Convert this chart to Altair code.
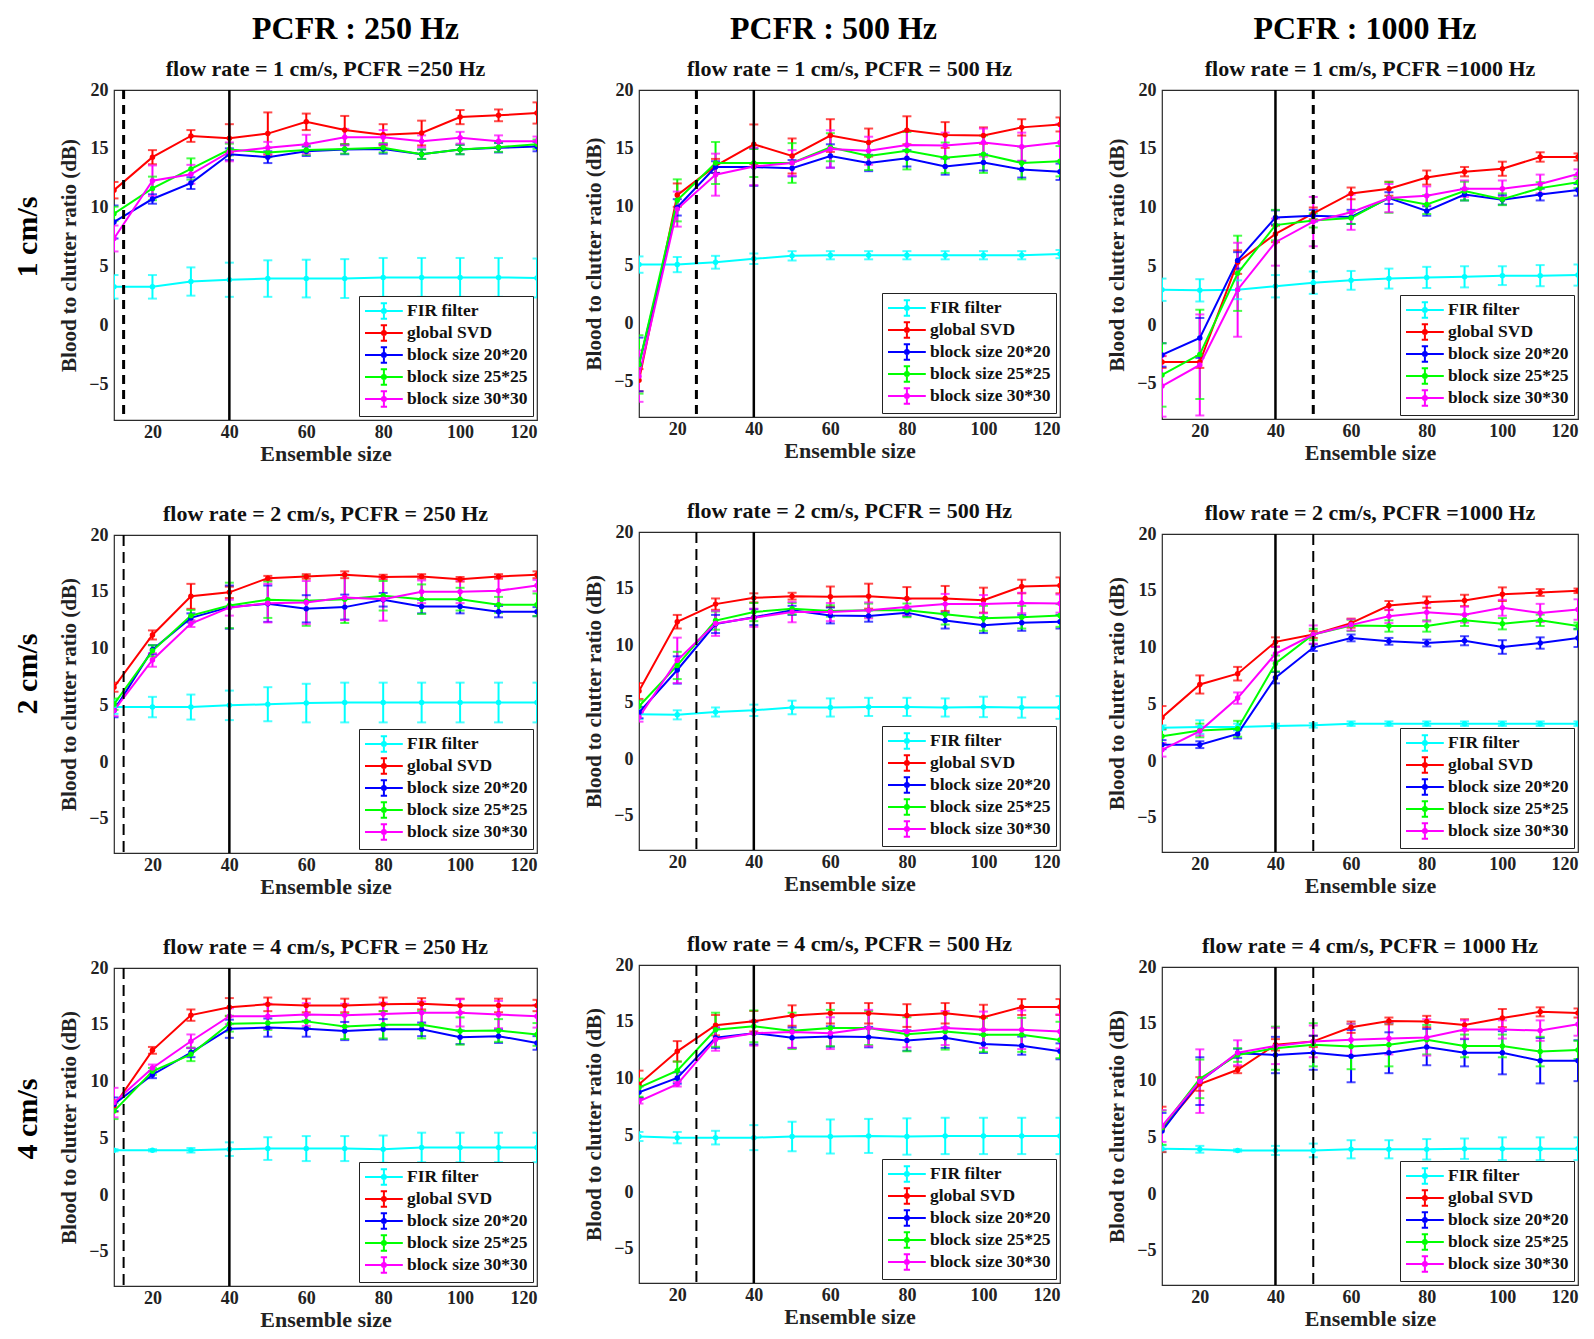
import altair as alt
import pandas as pd

X = [10, 20, 30, 40, 50, 60, 70, 80, 90, 100, 110, 120]
SERIES = ["FIR filter", "global SVD", "block size 20*20", "block size 25*25", "block size 30*30"]
COLORS = ["#00FFFF", "#FF0000", "#0000FF", "#00FF00", "#FF00FF"]
FLOWS = ["1 cm/s", "2 cm/s", "4 cm/s"]
PCFRS = ["PCFR : 250 Hz", "PCFR : 500 Hz", "PCFR : 1000 Hz"]
TITLES = [
    ["flow rate = 1 cm/s, PCFR =250 Hz", "flow rate = 1 cm/s, PCFR = 500 Hz", "flow rate = 1 cm/s, PCFR =1000 Hz"],
    ["flow rate = 2 cm/s, PCFR = 250 Hz", "flow rate = 2 cm/s, PCFR = 500 Hz", "flow rate = 2 cm/s, PCFR =1000 Hz"],
    ["flow rate = 4 cm/s, PCFR = 250 Hz", "flow rate = 4 cm/s, PCFR = 500 Hz", "flow rate = 4 cm/s, PCFR = 1000 Hz"],
]
SOLID_X = 40
DASH_X = [12.5, 25, 50]
X_TICKS = [20, 40, 60, 80, 100, 120]
Y_TICKS = [-5, 0, 5, 10, 15, 20]

# ---- row 1 : 1 cm/s ----
R1C1_FIR = [3.3, 3.3, 3.75, 3.9, 4.0, 4.0, 4.0, 4.1, 4.1, 4.1, 4.1, 4.05]
R1C1_FIR_ERR = [1.0, 1.0, 1.2, 1.45, 1.55, 1.6, 1.65, 1.65, 1.65, 1.65, 1.65, 1.65]
R1C1_SVD = [11.5, 14.3, 16.1, 15.9, 16.3, 17.3, 16.6, 16.2, 16.35, 17.7, 17.85, 18.05]
R1C1_SVD_ERR = [0.7, 0.6, 0.5, 1.2, 1.8, 0.7, 1.2, 0.9, 1.05, 0.6, 0.5, 0.9]
R1C1_B20 = [8.8, 10.75, 12.1, 14.55, 14.3, 14.8, 14.95, 15.0, 14.55, 14.95, 15.1, 15.2]
R1C1_B20_ERR = [1.4, 0.4, 0.5, 0.5, 0.5, 0.4, 0.4, 0.4, 0.4, 0.4, 0.4, 0.4]
R1C1_B25 = [9.5, 11.65, 13.3, 14.95, 14.7, 14.9, 15.0, 15.1, 14.55, 14.95, 15.15, 15.4]
R1C1_B25_ERR = [0.6, 1.0, 0.9, 0.5, 0.4, 0.4, 0.4, 0.4, 0.4, 0.4, 0.4, 0.4]
R1C1_B30 = [7.4, 12.3, 12.85, 14.75, 15.1, 15.4, 16.0, 16.0, 15.65, 15.95, 15.65, 15.65]
R1C1_B30_ERR = [1.1, 1.3, 0.8, 0.8, 0.5, 0.8, 0.7, 0.6, 0.5, 0.5, 0.5, 0.4]

R1C2_FIR = [5.05, 5.05, 5.25, 5.55, 5.8, 5.85, 5.85, 5.85, 5.85, 5.85, 5.85, 5.95]
R1C2_FIR_ERR = [0.7, 0.65, 0.55, 0.45, 0.4, 0.35, 0.35, 0.35, 0.35, 0.35, 0.35, 0.35]
R1C2_SVD = [-4.85, 11.0, 13.5, 15.35, 14.35, 16.1, 15.5, 16.55, 16.15, 16.1, 16.8, 17.05]
R1C2_SVD_ERR = [0.95, 1.0, 0.6, 1.7, 1.5, 1.4, 1.2, 1.2, 1.1, 0.7, 0.7, 0.6]
R1C2_B20 = [-3.5, 9.95, 13.4, 13.4, 13.3, 14.35, 13.75, 14.15, 13.45, 13.8, 13.2, 13.0]
R1C2_B20_ERR = [2.3, 0.7, 0.5, 1.6, 0.7, 1.0, 0.7, 0.7, 0.7, 0.7, 0.7, 0.7]
R1C2_B25 = [-3.5, 10.55, 13.75, 13.75, 13.75, 15.1, 14.35, 14.8, 14.2, 14.5, 13.75, 13.9]
R1C2_B25_ERR = [2.5, 1.8, 1.8, 1.2, 1.7, 1.2, 1.2, 1.6, 1.3, 1.6, 1.4, 1.3]
R1C2_B30 = [-4.5, 9.8, 12.75, 13.45, 13.75, 14.95, 14.8, 15.3, 15.25, 15.5, 15.15, 15.5]
R1C2_B30_ERR = [2.2, 1.5, 1.8, 1.6, 1.1, 1.6, 1.2, 1.2, 1.1, 1.2, 1.2, 1.6]

R1C3_FIR = [3.0, 2.95, 3.0, 3.3, 3.6, 3.8, 3.95, 4.05, 4.1, 4.2, 4.2, 4.25]
R1C3_FIR_ERR = [0.95, 0.95, 0.8, 0.95, 0.95, 0.8, 0.85, 0.9, 0.9, 0.8, 0.9, 0.9]
R1C3_SVD = [-3.15, -3.15, 5.35, 7.75, 9.5, 11.2, 11.6, 12.55, 13.05, 13.3, 14.3, 14.3]
R1C3_SVD_ERR = [0.5, 0.5, 1.0, 0.7, 0.5, 0.5, 0.6, 0.6, 0.4, 0.6, 0.4, 0.3]
R1C3_B20 = [-2.55, -1.1, 5.5, 9.15, 9.3, 9.2, 10.8, 9.7, 11.1, 10.65, 11.1, 11.5]
R1C3_B20_ERR = [1.0, 1.7, 0.7, 0.6, 0.5, 0.6, 0.5, 0.4, 0.5, 0.4, 0.5, 0.5]
R1C3_B25 = [-4.25, -2.5, 4.4, 8.5, 8.9, 9.1, 10.85, 10.25, 11.4, 10.7, 11.65, 12.15]
R1C3_B25_ERR = [2.7, 3.8, 3.2, 1.3, 0.6, 0.5, 1.3, 0.8, 0.8, 0.5, 0.5, 0.5]
R1C3_B30 = [-5.2, -3.4, 3.0, 7.05, 8.8, 9.6, 10.8, 11.0, 11.6, 11.6, 12.0, 12.85]
R1C3_B30_ERR = [2.6, 4.3, 4.0, 2.0, 2.1, 1.5, 1.2, 0.8, 0.7, 0.7, 0.8, 0.4]

# ---- row 2 : 2 cm/s ----
R2C1_FIR = [4.85, 4.85, 4.85, 5.0, 5.1, 5.2, 5.25, 5.25, 5.25, 5.25, 5.25, 5.25]
R2C1_FIR_ERR = [0.6, 0.9, 1.1, 1.3, 1.5, 1.7, 1.75, 1.75, 1.75, 1.75, 1.75, 1.75]
R2C1_SVD = [6.6, 11.2, 14.6, 14.95, 16.2, 16.35, 16.5, 16.3, 16.35, 16.1, 16.35, 16.5]
R2C1_SVD_ERR = [0.4, 0.4, 1.1, 0.5, 0.2, 0.2, 0.3, 0.2, 0.2, 0.2, 0.2, 0.3]
R2C1_B20 = [4.55, 9.9, 12.7, 13.65, 13.95, 13.5, 13.65, 14.3, 13.7, 13.7, 13.25, 13.25]
R2C1_B20_ERR = [0.6, 0.4, 0.4, 1.9, 1.6, 1.2, 1.1, 0.6, 0.6, 0.6, 0.5, 0.4]
R2C1_B25 = [5.1, 9.8, 12.9, 13.8, 14.3, 14.2, 14.35, 14.65, 14.35, 14.35, 13.85, 13.85]
R2C1_B25_ERR = [0.5, 0.5, 0.5, 2.0, 1.6, 2.2, 2.1, 1.3, 1.3, 1.0, 0.7, 1.0]
R2C1_B30 = [4.55, 9.0, 12.2, 13.6, 14.0, 14.05, 14.5, 14.35, 15.0, 15.0, 15.1, 15.55]
R2C1_B30_ERR = [0.5, 0.6, 0.3, 0.7, 1.7, 1.9, 2.0, 1.9, 1.0, 1.0, 1.2, 0.5]

R2C2_FIR = [3.95, 3.9, 4.15, 4.3, 4.55, 4.55, 4.6, 4.6, 4.55, 4.6, 4.55, 4.55]
R2C2_FIR_ERR = [0.4, 0.4, 0.4, 0.5, 0.6, 0.8, 0.8, 0.8, 0.8, 0.9, 0.9, 1.0]
R2C2_SVD = [6.0, 12.1, 13.65, 14.2, 14.35, 14.3, 14.35, 14.15, 14.15, 14.0, 15.2, 15.3]
R2C2_SVD_ERR = [0.7, 0.6, 0.5, 0.4, 0.3, 0.9, 1.1, 1.0, 1.1, 1.1, 0.6, 0.7]
R2C2_B20 = [4.1, 7.85, 11.9, 12.5, 13.1, 12.65, 12.6, 12.9, 12.2, 11.8, 12.0, 12.1]
R2C2_B20_ERR = [0.5, 1.2, 0.8, 0.7, 0.4, 0.7, 0.5, 0.3, 0.7, 0.7, 0.7, 0.6]
R2C2_B25 = [4.65, 8.25, 12.2, 12.95, 13.25, 13.05, 13.1, 13.1, 12.75, 12.4, 12.5, 12.65]
R2C2_B25_ERR = [0.5, 1.2, 0.8, 0.8, 0.5, 0.5, 0.6, 0.6, 0.9, 1.1, 1.0, 1.0]
R2C2_B30 = [3.7, 8.7, 11.95, 12.45, 12.95, 12.95, 13.1, 13.4, 13.65, 13.65, 13.75, 13.7]
R2C2_B30_ERR = [0.4, 2.0, 1.1, 0.8, 0.9, 0.8, 0.7, 0.7, 0.9, 0.8, 0.9, 0.8]

R2C3_FIR = [2.95, 3.0, 3.0, 3.1, 3.15, 3.3, 3.3, 3.3, 3.3, 3.3, 3.3, 3.3]
R2C3_FIR_ERR = [0.2, 0.6, 0.3, 0.2, 0.2, 0.2, 0.2, 0.2, 0.2, 0.2, 0.2, 0.2]
R2C3_SVD = [3.85, 6.75, 7.7, 10.5, 11.15, 12.15, 13.7, 14.0, 14.15, 14.7, 14.85, 15.0]
R2C3_SVD_ERR = [1.0, 0.8, 0.6, 0.4, 0.3, 0.4, 0.4, 0.5, 0.5, 0.6, 0.3, 0.2]
R2C3_B20 = [1.45, 1.45, 2.4, 7.35, 10.0, 10.85, 10.55, 10.4, 10.6, 10.05, 10.4, 10.85]
R2C3_B20_ERR = [0.4, 0.3, 0.4, 0.5, 0.3, 0.3, 0.3, 0.3, 0.4, 0.6, 0.5, 0.8]
R2C3_B25 = [2.2, 2.7, 2.85, 8.6, 11.15, 11.95, 11.9, 11.9, 12.4, 12.1, 12.4, 11.9]
R2C3_B25_ERR = [0.7, 0.6, 0.7, 0.7, 0.5, 0.5, 0.5, 0.5, 0.5, 0.5, 0.5, 0.3]
R2C3_B30 = [1.0, 2.65, 5.55, 9.45, 11.15, 12.0, 12.75, 13.1, 12.9, 13.5, 13.05, 13.35]
R2C3_B30_ERR = [0.6, 0.4, 0.5, 0.6, 0.8, 0.5, 0.6, 0.8, 0.7, 0.7, 0.8, 0.9]

# ---- row 3 : 4 cm/s ----
R3C1_FIR = [3.95, 3.95, 3.95, 4.05, 4.1, 4.1, 4.1, 4.05, 4.2, 4.2, 4.2, 4.2]
R3C1_FIR_ERR = [0.1, 0.1, 0.2, 0.6, 1.0, 1.1, 1.1, 1.2, 1.3, 1.3, 1.3, 1.3]
R3C1_SVD = [7.85, 12.75, 15.85, 16.55, 16.8, 16.7, 16.7, 16.8, 16.85, 16.7, 16.7, 16.7]
R3C1_SVD_ERR = [0.5, 0.3, 0.5, 0.8, 0.6, 0.6, 0.6, 0.6, 0.5, 0.6, 0.6, 0.5]
R3C1_B20 = [8.0, 10.6, 12.55, 14.65, 14.75, 14.65, 14.45, 14.6, 14.6, 13.9, 14.0, 13.4]
R3C1_B20_ERR = [0.6, 0.3, 0.4, 0.8, 0.8, 0.7, 0.8, 0.9, 0.6, 0.6, 0.6, 0.6]
R3C1_B25 = [7.4, 10.9, 12.4, 15.1, 15.15, 15.3, 14.85, 15.0, 15.0, 14.45, 14.5, 14.15]
R3C1_B25_ERR = [0.7, 0.3, 0.6, 0.7, 0.6, 0.6, 1.1, 1.2, 1.2, 1.2, 1.0, 1.0]
R3C1_B30 = [8.15, 11.2, 13.55, 15.75, 15.75, 15.9, 15.85, 15.95, 16.05, 16.05, 15.9, 15.75]
R3C1_B30_ERR = [1.3, 0.3, 0.6, 0.7, 1.1, 1.0, 1.0, 1.0, 1.0, 1.2, 1.2, 1.0]

R3C2_FIR = [4.9, 4.8, 4.8, 4.8, 4.9, 4.9, 4.95, 4.9, 4.95, 4.95, 4.95, 4.95]
R3C2_FIR_ERR = [0.4, 0.5, 0.6, 1.1, 1.3, 1.5, 1.5, 1.6, 1.6, 1.6, 1.6, 1.6]
R3C2_SVD = [9.5, 12.4, 14.7, 15.05, 15.55, 15.75, 15.75, 15.55, 15.75, 15.4, 16.3, 16.3]
R3C2_SVD_ERR = [1.2, 0.9, 0.9, 0.9, 0.9, 0.9, 0.9, 1.0, 0.9, 1.1, 0.7, 0.7]
R3C2_B20 = [8.8, 10.05, 13.6, 14.0, 13.6, 13.7, 13.65, 13.35, 13.6, 13.05, 12.9, 12.4]
R3C2_B20_ERR = [0.5, 0.5, 0.9, 1.0, 0.9, 0.9, 0.9, 0.9, 0.9, 0.8, 0.8, 0.7]
R3C2_B25 = [9.2, 10.7, 14.3, 14.6, 14.2, 14.45, 14.45, 13.9, 14.15, 13.85, 13.85, 13.4]
R3C2_B25_ERR = [0.8, 0.8, 1.5, 1.4, 1.6, 1.6, 1.5, 1.5, 1.6, 1.5, 1.5, 1.6]
R3C2_B30 = [8.0, 9.5, 13.45, 14.0, 14.1, 14.0, 14.45, 14.15, 14.45, 14.3, 14.3, 14.15]
R3C2_B30_ERR = [0.2, 0.2, 1.0, 1.1, 1.4, 1.4, 1.6, 1.4, 1.5, 1.6, 1.7, 1.5]

R3C3_FIR = [4.0, 3.95, 3.85, 3.85, 3.85, 3.95, 3.95, 3.95, 4.0, 4.0, 4.0, 4.0]
R3C3_FIR_ERR = [0.3, 0.3, 0.1, 0.4, 0.6, 0.8, 0.8, 0.9, 0.9, 1.0, 1.0, 1.0]
R3C3_SVD = [5.7, 9.7, 10.95, 13.15, 13.45, 14.7, 15.25, 15.2, 14.9, 15.5, 16.05, 15.95]
R3C3_SVD_ERR = [2.0, 0.6, 0.3, 0.5, 0.5, 0.5, 0.3, 0.5, 0.5, 0.8, 0.4, 0.4]
R3C3_B20 = [5.55, 9.95, 12.4, 12.25, 12.45, 12.15, 12.45, 12.95, 12.45, 12.45, 11.75, 11.75]
R3C3_B20_ERR = [1.6, 2.1, 0.4, 1.6, 1.5, 2.3, 1.8, 1.6, 1.2, 1.9, 2.0, 1.8]
R3C3_B25 = [5.85, 10.15, 12.25, 12.85, 13.15, 13.0, 13.15, 13.6, 13.05, 13.05, 12.55, 12.7]
R3C3_B25_ERR = [1.5, 1.7, 0.6, 1.9, 1.9, 2.0, 1.9, 1.3, 1.0, 1.0, 1.3, 0.8]
R3C3_B30 = [6.0, 9.95, 12.45, 13.05, 13.45, 13.6, 13.7, 13.8, 14.5, 14.5, 14.4, 14.95]
R3C3_B30_ERR = [1.4, 2.8, 1.1, 1.6, 1.4, 1.4, 1.4, 1.6, 0.8, 0.8, 0.9, 1.0]

PANEL_DATA = [
    [
        [(R1C1_FIR, R1C1_FIR_ERR), (R1C1_SVD, R1C1_SVD_ERR), (R1C1_B20, R1C1_B20_ERR), (R1C1_B25, R1C1_B25_ERR), (R1C1_B30, R1C1_B30_ERR)],
        [(R1C2_FIR, R1C2_FIR_ERR), (R1C2_SVD, R1C2_SVD_ERR), (R1C2_B20, R1C2_B20_ERR), (R1C2_B25, R1C2_B25_ERR), (R1C2_B30, R1C2_B30_ERR)],
        [(R1C3_FIR, R1C3_FIR_ERR), (R1C3_SVD, R1C3_SVD_ERR), (R1C3_B20, R1C3_B20_ERR), (R1C3_B25, R1C3_B25_ERR), (R1C3_B30, R1C3_B30_ERR)],
    ],
    [
        [(R2C1_FIR, R2C1_FIR_ERR), (R2C1_SVD, R2C1_SVD_ERR), (R2C1_B20, R2C1_B20_ERR), (R2C1_B25, R2C1_B25_ERR), (R2C1_B30, R2C1_B30_ERR)],
        [(R2C2_FIR, R2C2_FIR_ERR), (R2C2_SVD, R2C2_SVD_ERR), (R2C2_B20, R2C2_B20_ERR), (R2C2_B25, R2C2_B25_ERR), (R2C2_B30, R2C2_B30_ERR)],
        [(R2C3_FIR, R2C3_FIR_ERR), (R2C3_SVD, R2C3_SVD_ERR), (R2C3_B20, R2C3_B20_ERR), (R2C3_B25, R2C3_B25_ERR), (R2C3_B30, R2C3_B30_ERR)],
    ],
    [
        [(R3C1_FIR, R3C1_FIR_ERR), (R3C1_SVD, R3C1_SVD_ERR), (R3C1_B20, R3C1_B20_ERR), (R3C1_B25, R3C1_B25_ERR), (R3C1_B30, R3C1_B30_ERR)],
        [(R3C2_FIR, R3C2_FIR_ERR), (R3C2_SVD, R3C2_SVD_ERR), (R3C2_B20, R3C2_B20_ERR), (R3C2_B25, R3C2_B25_ERR), (R3C2_B30, R3C2_B30_ERR)],
        [(R3C3_FIR, R3C3_FIR_ERR), (R3C3_SVD, R3C3_SVD_ERR), (R3C3_B20, R3C3_B20_ERR), (R3C3_B25, R3C3_B25_ERR), (R3C3_B30, R3C3_B30_ERR)],
    ],
]

FONT = "Liberation Serif"
COL_WIDTHS = [423, 421, 416]
ROW1_HEIGHTS = [330, 327, 329]
ROW_HEIGHT = 318
COL_TITLE_DX = [80, 12, 23]
ROW_LABEL_DX = [24, 26, 14]

LEG_PATH = ("M-1,0H3.2M1.1,-0.85V0.85M0.75,-0.85H1.45M0.75,0.85H1.45"
            "M0.88,0A0.22,0.22,0,1,0,1.32,0A0.22,0.22,0,1,0,0.88,0")

# stroke scale carries the legend; the colour scale (no legend) lists the same
# series in reverse order so the two legends are never merged into one.
SC_STROKE = alt.Scale(domain=SERIES, range=COLORS)
SC_COLOR = alt.Scale(domain=SERIES[::-1], range=COLORS[::-1])
XS = alt.Scale(domain=[10, 120], nice=False, zero=False)
YS = alt.Scale(domain=[-8, 20], nice=False, zero=False)
XA = alt.Axis(values=X_TICKS, title="Ensemble size")
YA = alt.Axis(values=Y_TICKS, title="Blood to clutter ratio (dB)")

LEGEND = alt.Legend(
    title=None, orient="bottom-right", offset=4,
    labelFont=FONT, labelFontWeight="bold", labelFontSize=17.5, labelColor="#111",
    labelLimit=300, strokeColor="#222", fillColor="white", padding=5, rowPadding=-3,
    symbolType=LEG_PATH, symbolSize=324, symbolStrokeWidth=2, labelOffset=23)


def make_panel(r, c):
    rows = []
    caps = []
    for s, name in enumerate(SERIES):
        means, errs = PANEL_DATA[r][c][s]
        for x, m, e in zip(X, means, errs):
            rows.append({"x": x, "y": m, "lo": m - e, "hi": m + e, "series": name})
            caps.append({"x": x, "v": m - e, "series": name})
            caps.append({"x": x, "v": m + e, "series": name})
    df = pd.DataFrame(rows)
    cdf = pd.DataFrame(caps)
    xe = alt.X("x:Q", scale=XS, axis=XA)
    col = alt.Color("series:N", scale=SC_COLOR, legend=None)

    bars = alt.Chart(df).mark_rule(strokeWidth=2, clip=True).encode(
        x=xe, y=alt.Y("lo:Q", scale=YS, axis=YA), y2="hi:Q", color=col)
    capm = alt.Chart(cdf).mark_tick(orient="horizontal", size=9, thickness=2, clip=True).encode(
        x=xe, y=alt.Y("v:Q", scale=YS, axis=YA), color=col)
    line = alt.Chart(df).mark_line(strokeWidth=2, clip=True).encode(
        x=xe, y=alt.Y("y:Q", scale=YS, axis=YA),
        stroke=alt.Stroke("series:N", scale=SC_STROKE, legend=LEGEND))
    pts = alt.Chart(df).mark_point(filled=True, size=30, opacity=1, clip=True).encode(
        x=xe, y=alt.Y("y:Q", scale=YS, axis=YA), color=col)
    solid = alt.Chart(pd.DataFrame({"x": [SOLID_X]})).mark_rule(color="black", strokeWidth=2.5).encode(x=xe)
    dash = alt.Chart(pd.DataFrame({"x": [DASH_X[c]]})).mark_rule(
        color="black", strokeWidth=3 if r == 0 else 2,
        strokeDash=[9, 6] if r == 0 else [11, 6]).encode(x=xe)

    h = ROW1_HEIGHTS[c] if r == 0 else ROW_HEIGHT
    return alt.layer(bars, capm, line, pts, solid, dash).properties(
        width=COL_WIDTHS[c], height=h,
        title=alt.TitleParams(TITLES[r][c], font=FONT, fontSize=22, fontWeight="bold",
                              color="#111", offset=0, anchor="middle"))


def indep(ch):
    return ch.resolve_scale(color="independent", stroke="independent").resolve_legend(
        color="independent", stroke="independent")


columns = []
for c in range(3):
    cells = []
    for r in range(3):
        p = make_panel(r, c)
        if c == 0:
            p = indep(alt.vconcat(p, title=alt.TitleParams(
                FLOWS[r], orient="left", anchor="middle", font=FONT, fontSize=30,
                fontWeight="bold", color="black", offset=14, dx=ROW_LABEL_DX[r])))
        cells.append(p)
    col = alt.vconcat(*cells, spacing=37, title=alt.TitleParams(
        PCFRS[c], font=FONT, fontSize=32, fontWeight="bold", color="black",
        anchor="middle", offset=11, dx=COL_TITLE_DX[c]))
    columns.append(indep(col))

chart = indep(alt.hconcat(*columns, spacing=44)).properties(
    padding={"left": 5, "top": 5, "right": 0, "bottom": 0}
).configure_view(stroke="#2b2b2b", strokeWidth=1.2).configure_axis(
    grid=False, domain=False, ticks=False,
    labelFont=FONT, labelFontWeight="bold", labelFontSize=18, labelColor="#222",
    titleFont=FONT, titleFontWeight="bold", titleFontSize=21, titleColor="#222"
).configure_axisX(labelPadding=3, titlePadding=2, titleFontSize=22).configure_axisY(
    labelPadding=6, minExtent=28, maxExtent=28, titlePadding=7)

chart.save("out.html", embed_options={"renderer": "svg", "actions": False})
